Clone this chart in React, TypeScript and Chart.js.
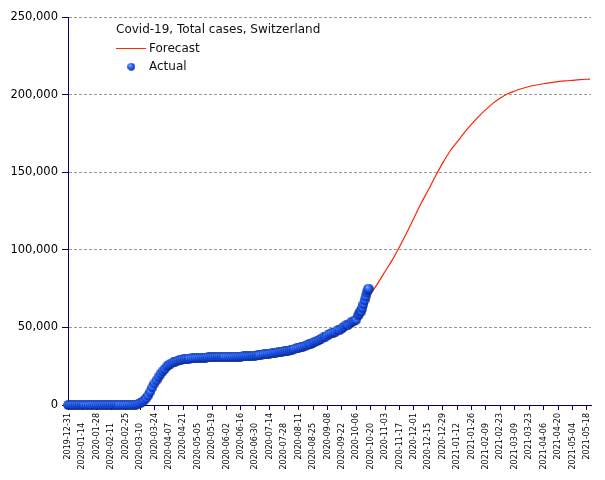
import React, { useEffect, useRef } from 'react';
import { Chart, registerables } from 'chart.js';

Chart.register(...registerables);

const chartTitle = 'Covid-19, Total cases, Switzerland';
const forecastName = 'Forecast';
const actualName = 'Actual';

const axisStartDate = '2019-12-31';
const axisEndDate = '2021-05-22';
const tickLabels = [
  '2019-12-31', '2020-01-14', '2020-01-28', '2020-02-11', '2020-02-25', '2020-03-10',
  '2020-03-24', '2020-04-07', '2020-04-21', '2020-05-05', '2020-05-19', '2020-06-02',
  '2020-06-16', '2020-06-30', '2020-07-14', '2020-07-28', '2020-08-11', '2020-08-25',
  '2020-09-08', '2020-09-22', '2020-10-06', '2020-10-20', '2020-11-03', '2020-11-17',
  '2020-12-01', '2020-12-15', '2020-12-29', '2021-01-12', '2021-01-26', '2021-02-09',
  '2021-02-23', '2021-03-09', '2021-03-23', '2021-04-06', '2021-04-20', '2021-05-04',
  '2021-05-18',
];
const yMin = 0;
const yMax = 250000;
const yStep = 50000;

// Actual total cases, one value every second day starting 2019-12-31
const actualStartDate = '2019-12-31';
const actualStepDays = 2;
const actualCases = [
  0, 0, 0, 0, 0, 0, 0, 0, 0, 0,
  0, 0, 0, 0, 0, 0, 0, 0, 0, 0,
  0, 0, 0, 0, 0, 0, 0, 0, 0, 0,
  0, 30, 100, 300, 600, 1100, 2000, 3000, 4400, 6200,
  8600, 11400, 13900, 15900, 18200, 20200, 21800, 23200, 24900, 25900,
  26700, 27400, 27900, 28400, 28800, 29100, 29400, 29600, 29800, 29950,
  30050, 30150, 30250, 30350, 30400, 30500, 30550, 30600, 30650, 30700,
  30750, 30800, 30850, 30900, 30920, 30950, 30970, 31000, 31000, 31020,
  31050, 31100, 31150, 31200, 31250, 31300, 31350, 31400, 31500, 31600,
  31700, 31800, 32000, 32200, 32350, 32600, 32800, 32950, 33100, 33300,
  33500, 33650, 33900, 34200, 34350, 34500, 34800, 35000, 35400, 35750,
  36100, 36450, 36700, 37200, 37450, 37900, 38450, 39000, 39350, 40250,
  40900, 41350, 42000, 42750, 43500, 44000, 44800, 45700, 46250, 46700,
  47200, 48250, 48300, 49300, 50400, 51500, 51500, 52600, 53800, 54400,
  55000, 57700,
];
// Actual total cases, daily from 2020-10-09
const actualTailStartDate = '2020-10-09';
const actualTailCases = [58900, 60400, 60400, 62500, 65000, 67500, 70000, 72500, 74200, 75000];

// Forecast
const forecastDates = [
  '2020-10-13', '2020-10-20', '2020-10-27', '2020-11-03', '2020-11-10', '2020-11-17',
  '2020-11-24', '2020-12-01', '2020-12-08', '2020-12-15', '2020-12-22', '2020-12-29',
  '2021-01-05', '2021-01-12', '2021-01-19', '2021-01-26', '2021-02-02', '2021-02-09',
  '2021-02-16', '2021-02-23', '2021-03-02', '2021-03-09', '2021-03-16', '2021-03-23',
  '2021-03-30', '2021-04-06', '2021-04-13', '2021-04-20', '2021-04-27', '2021-05-04',
  '2021-05-11', '2021-05-18', '2021-05-21',
];
const forecastCases = [
  65000, 71500, 78500, 86000, 93500, 102000,
  111000, 120500, 130000, 138500, 147500, 156000,
  163500, 169500, 175500, 181000, 186000, 190500,
  194500, 197800, 200500, 202300, 203900, 205200,
  206200, 207000, 207700, 208300, 208800, 209200,
  209600, 209900, 210000,
];

const DAY = 86400000;
const dayIndex = (d: string) => {
  const [y, m, dd] = d.split('-').map(Number);
  const [y0, m0, d0] = axisStartDate.split('-').map(Number);
  return Math.round((Date.UTC(y, m - 1, dd) - Date.UTC(y0, m0 - 1, d0)) / DAY);
};

const NAVY = '#000066';
const FONT = '"DejaVu Sans", Verdana, sans-serif';

function makeSphere(size: number) {
  const c = document.createElement('canvas');
  c.width = size;
  c.height = size;
  const g = c.getContext('2d')!;
  const r = size / 2;
  const grad = g.createRadialGradient(r * 0.65, r * 0.6, r * 0.05, r, r, r);
  grad.addColorStop(0, '#9cc0ff');
  grad.addColorStop(0.25, '#4a86ff');
  grad.addColorStop(0.6, '#1d5cf2');
  grad.addColorStop(0.85, '#0f36b8');
  grad.addColorStop(1, '#061a6a');
  g.fillStyle = grad;
  g.beginPath();
  g.arc(r, r, r - 0.2, 0, Math.PI * 2);
  g.fill();
  return c;
}

export default function App() {
  const ref = useRef<HTMLCanvasElement>(null);

  useEffect(() => {
    document.body.style.margin = '0';
    const canvas = ref.current!;
    const sphere = makeSphere(10);
    const legendSphere = makeSphere(8);

    const actualPoints = [
      ...actualCases.map((v, i) => ({ x: dayIndex(actualStartDate) + i * actualStepDays, y: v })),
      ...actualTailCases.map((v, i) => ({ x: dayIndex(actualTailStartDate) + i, y: v })),
    ];
    const forecastPoints = forecastDates.map((d, i) => ({ x: dayIndex(d), y: forecastCases[i] }));

    const overlay = {
      id: 'overlay',
      afterDraw(chart: any) {
        const ctx = chart.ctx as CanvasRenderingContext2D;
        ctx.save();
        // x tick labels, staggered
        const xs = chart.scales.x;
        ctx.font = `8px ${FONT}`;
        ctx.fillStyle = '#000';
        ctx.textAlign = 'right';
        ctx.textBaseline = 'middle';
        xs.ticks.forEach((t: any, i: number) => {
          const x = xs.getPixelForValue(t.value);
          const y = xs.bottom - xs.height + (i % 2 === 0 ? 8 : 18);
          ctx.save();
          ctx.translate(x, y);
          ctx.rotate(-Math.PI / 2);
          ctx.fillText(tickLabels[i], 0, 0);
          ctx.restore();
        });
        // legend
        const lx = 116;
        ctx.font = `12px ${FONT}`;
        ctx.fillStyle = '#111';
        ctx.textAlign = 'left';
        ctx.textBaseline = 'middle';
        ctx.fillText(chartTitle, lx, 29.5);
        ctx.strokeStyle = '#ff2a00';
        ctx.lineWidth = 1;
        ctx.beginPath();
        ctx.moveTo(lx, 48.5);
        ctx.lineTo(lx + 30, 48.5);
        ctx.stroke();
        ctx.fillText(forecastName, 149, 48.5);
        ctx.drawImage(legendSphere, 131.3 - 4, 66.7 - 4);
        ctx.fillText(actualName, 149, 66.7);
        ctx.restore();
      },
    };

    const chart = new Chart(canvas, {
      type: 'line',
      data: {
        datasets: [
          {
            label: actualName,
            data: actualPoints,
            showLine: false,
            pointStyle: sphere as any,
            pointRadius: 5,
            pointHoverRadius: 5,
            clip: false as any,
            order: 1,
          },
          {
            label: forecastName,
            data: forecastPoints,
            borderColor: '#ff2200',
            borderWidth: 1.2,
            pointRadius: 0,
            cubicInterpolationMode: 'monotone',
            fill: false,
            order: 2,
          },
        ],
      },
      options: {
        animation: false,
        responsive: false,
        devicePixelRatio: 1,
        events: [],
        layout: { padding: { top: 17, right: 14, left: 0, bottom: 0 } },
        plugins: { legend: { display: false }, tooltip: { enabled: false } },
        scales: {
          x: {
            type: 'linear',
            min: dayIndex(axisStartDate),
            max: dayIndex(axisEndDate),
            afterBuildTicks: (scale: any) => {
              scale.ticks = tickLabels.map((l) => ({ value: dayIndex(l) }));
            },
            afterFit: (scale: any) => {
              scale.height = 75;
            },
            ticks: { display: false },
            grid: {
              drawOnChartArea: false,
              drawTicks: true,
              tickLength: 5,
              color: NAVY,
              tickColor: NAVY,
            },
            border: { color: NAVY, width: 1 },
          },
          y: {
            type: 'linear',
            min: yMin,
            max: yMax,
            afterFit: (scale: any) => {
              scale.width = 68;
            },
            ticks: {
              stepSize: yStep,
              padding: 4,
              color: '#000',
              font: { family: FONT, size: 11.5 },
              callback: (v: any) => Number(v).toLocaleString('en-US'),
            },
            grid: {
              color: '#999999',
              lineWidth: 1,
              tickLength: 6,
              tickColor: NAVY,
              tickBorderDash: [],
            } as any,
            border: { color: NAVY, width: 1, dash: [3, 2] },
          },
        },
      },
      plugins: [overlay],
    });
    return () => chart.destroy();
  }, []);

  return (
    <div style={{ width: 605, height: 480 }}>
      <canvas ref={ref} width={605} height={480} style={{ display: 'block' }} />
    </div>
  );
}
